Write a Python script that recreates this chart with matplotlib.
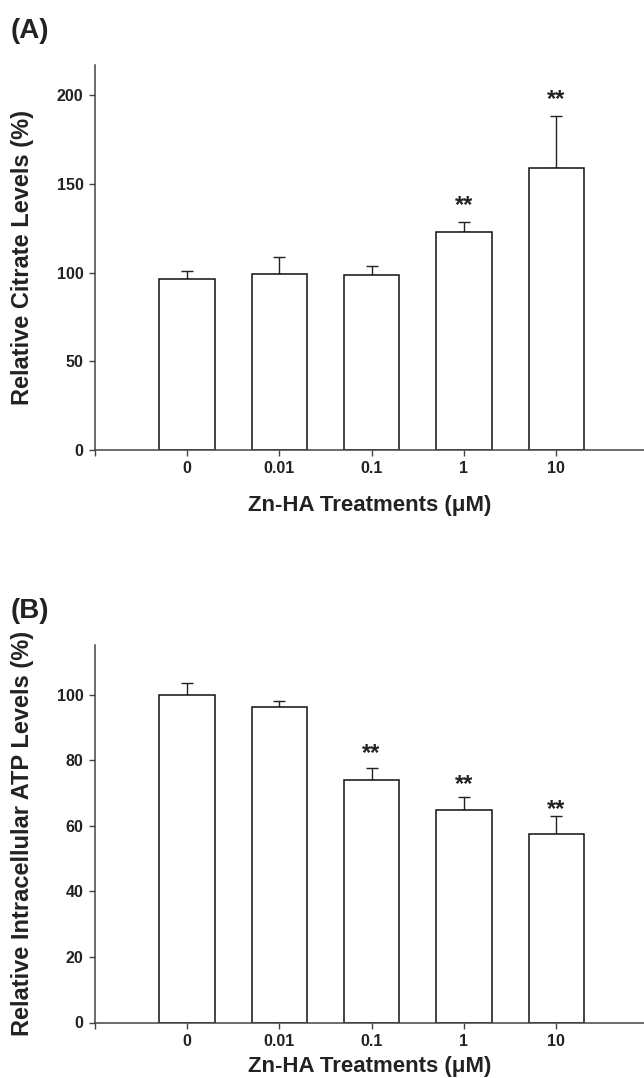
import numpy as np
import matplotlib
matplotlib.use('Agg')
import matplotlib.pyplot as plt

plt.rcParams['font.family'] = ['Liberation Sans', 'DejaVu Sans']

treatments = ['0', '0.01', '0.1', '1', '10']

citrate = [96.4, 99.3, 98.6, 123.0, 159.2]
citrate_err = [4.3, 9.7, 5.2, 5.5, 29.2]
citrate_star_y = [None, None, None, 141.0, 201.0]

atp = [100.0, 96.3, 73.9, 65.0, 57.5]
atp_err = [3.5, 1.9, 3.8, 3.9, 5.5]
atp_star_y = [None, None, 83.9, 74.2, 66.8]

fig = plt.figure(figsize=(6.44, 10.78), dpi=100)
W, H = 644, 1078

def panel(rect, vals, errs, star_y, ylim, yticks, ylabel, letter, xlab_y):
    left, top, right, bottom = rect
    ax = fig.add_axes([left / W, 1 - bottom / H, (right - left) / W, (bottom - top) / H])
    x = np.arange(len(vals))
    ax.bar(x, vals, width=0.6, color='white', edgecolor='#111111', linewidth=1.1, zorder=2)
    ax.errorbar(x, vals, yerr=[np.zeros(len(errs)), errs], fmt='none', ecolor='#222222',
                elinewidth=1.0, capsize=4, capthick=1.0, zorder=1)
    for xi, sy in zip(x, star_y):
        if sy is not None:
            ax.annotate('**', (xi, sy), xytext=(0, -4), textcoords='offset points',
                        ha='center', va='center', fontsize=17, fontweight='bold',
                        color='#222222')
    ax.set_xlim(-1, 4.95)
    ax.set_ylim(*ylim)
    ax.set_xticks([-1] + list(x))
    ax.set_xticklabels([''] + treatments)
    ax.set_yticks(yticks)
    for sp in ['top', 'right']:
        ax.spines[sp].set_visible(False)
    for sp in ['left', 'bottom']:
        ax.spines[sp].set_color('#444444')
        ax.spines[sp].set_linewidth(1.1)
    ax.tick_params(direction='out', length=4, width=1, color='#444444', labelsize=11.5, pad=4)
    for lab in ax.get_xticklabels() + ax.get_yticklabels():
        lab.set_fontweight('bold')
        lab.set_color('#222222')
    ax.set_ylabel(ylabel, fontsize=17, fontweight='bold', color='#222222')
    ax.yaxis.set_label_coords(-0.110, 0.5)
    ax.set_xlabel('Zn-HA Treatments (\u03bcM)', fontsize=16, fontweight='bold', color='#222222')
    ax.xaxis.set_label_coords((370 - left) / (right - left), xlab_y)
    fig.text(11 / W, 1 - (top - 34) / H, letter, fontsize=20, fontweight='bold',
             color='#222222', ha='left', va='center')
    return ax

panel((94.5, 64.7, 644, 449.7), citrate, citrate_err, citrate_star_y, (0, 217.3),
      [0, 50, 100, 150, 200], 'Relative Citrate Levels (%)', '(A)', -0.118)
panel((94.5, 644.7, 644, 1022.5), atp, atp_err, atp_star_y, (0, 115.3),
      [0, 20, 40, 60, 80, 100], 'Relative Intracellular ATP Levels (%)', '(B)', -0.088)

fig.savefig('out.png', dpi=100)
